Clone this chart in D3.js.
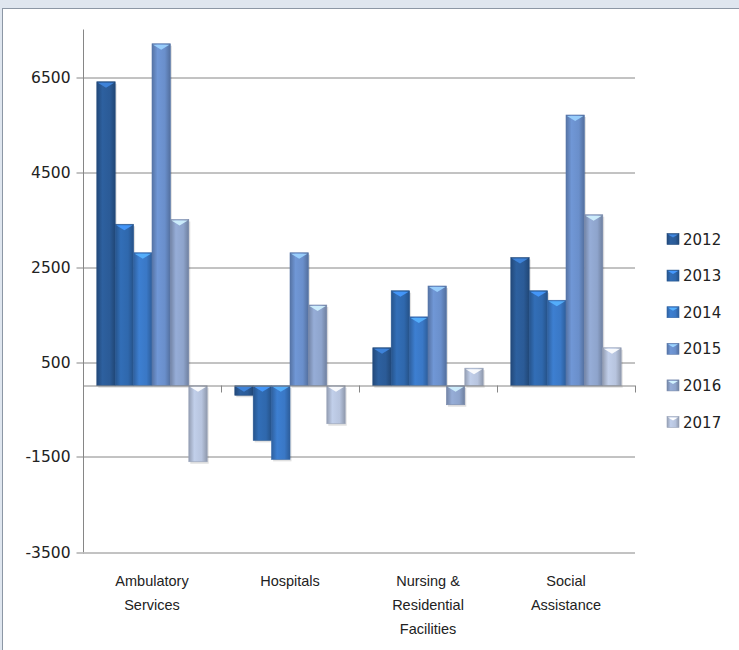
<!DOCTYPE html>
<html>
<head>
<meta charset="utf-8">
<script src="https://cdn.jsdelivr.net/npm/d3@7"></script>
<style>
  html, body { margin: 0; padding: 0; background: #dfe6ef; }
  svg { display: block; font-family: "Liberation Sans", Arial, sans-serif; }
</style>
</head>
<body>
<svg width="739" height="650"></svg>
<script>
// chart values
let categories = [
  ["Ambulatory", "Services"],
  ["Hospitals"],
  ["Nursing &", "Residential", "Facilities"],
  ["Social", "Assistance"]
];
let years = ["2012", "2013", "2014", "2015", "2016", "2017"];
let colors = ["#2b5b97", "#2f68ad", "#3a78c6", "#6a8fcb", "#8ea4cc", "#b7c4de"];
let ambulatory = [6400, 3400, 2800, 7200, 3500, -1600];
let hospitals = [-200, -1150, -1550, 2800, 1700, -800];
let nursing = [800, 2000, 1450, 2100, -400, 370];
let social = [2700, 2000, 1800, 5700, 3600, 800];
let yTicks = [-3500, -1500, 500, 2500, 4500, 6500];

let values = [ambulatory, hospitals, nursing, social];

var margin = { top: 29.5, left: 83, right: 104, bottom: 98 };
var width = 739 - margin.left - margin.right;
var height = 650 - margin.top - margin.bottom;

var svg = d3.select("svg");

// white panel
svg
  .append("rect")
  .attr("x", 2.5)
  .attr("y", 8.5)
  .attr("width", 760)
  .attr("height", 660)
  .attr("fill", "#fff")
  .attr("stroke", "#8c97a5");

var defs = svg.append("defs");
colors.forEach(function(c, i) {
  var g = defs
    .append("linearGradient")
    .attr("id", "grad" + i)
    .attr("x1", "0%")
    .attr("x2", "100%");
  g.append("stop").attr("offset", "0%").attr("stop-color", d3.color(c).darker(0.6));
  g.append("stop").attr("offset", "30%").attr("stop-color", d3.color(c).brighter(0.15));
  g.append("stop").attr("offset", "70%").attr("stop-color", c);
  g.append("stop").attr("offset", "100%").attr("stop-color", d3.color(c).darker(0.7));
});

var chart = svg
  .append("g")
  .attr("transform", "translate(" + margin.left + "," + margin.top + ")");

var x0 = d3
  .scaleBand()
  .domain(d3.range(categories.length))
  .range([0, width]);
// excel style 150% gap width
var x1 = d3
  .scaleBand()
  .domain(d3.range(years.length))
  .range([0, x0.bandwidth()])
  .paddingOuter(0.75)
  .paddingInner(0);
var y = d3
  .scaleLinear()
  .domain([-3500, 7500])
  .range([height, 0]);

// gridlines
chart
  .selectAll(".grid")
  .data(yTicks.slice(1))
  .enter()
  .append("line")
  .attr("class", "grid")
  .attr("x1", 0)
  .attr("x2", width)
  .attr("y1", d => Math.round(y(d)) + 0.5)
  .attr("y2", d => Math.round(y(d)) + 0.5)
  .attr("stroke", "#868686");

// y axis
var yAxis = d3
  .axisLeft(y)
  .tickValues(yTicks)
  .tickSize(7)
  .tickPadding(6)
  .tickFormat(d => String(d));
var ya = chart
  .append("g")
  .attr("transform", "translate(0.5,0)")
  .call(yAxis);
ya.select(".domain").attr("stroke", "#868686").attr("d", "M0," + height + "V0");
ya.selectAll(".tick line").attr("stroke", "#868686");
ya.selectAll(".tick")
  .attr("transform", d => "translate(0," + (Math.round(y(d)) + 0.5) + ")");
ya.selectAll(".tick text")
  .attr("fill", "#222")
  .attr("font-size", "15.5px")
  .attr("font-family", "DejaVu Sans, sans-serif");

// bottom line at -3500
chart
  .append("line")
  .attr("x1", 0)
  .attr("x2", width)
  .attr("y1", Math.round(y(-3500)) + 0.5)
  .attr("y2", Math.round(y(-3500)) + 0.5)
  .attr("stroke", "#868686");

// bars
var groups = chart
  .selectAll(".cat")
  .data(values)
  .enter()
  .append("g")
  .attr("class", "cat")
  .attr("transform", (d, i) => "translate(" + x0(i) + ",0)");

var bars = groups
  .selectAll(".bar")
  .data(d => d)
  .enter()
  .append("g")
  .attr("class", "bar");

bars
  .append("rect")
  .attr("x", (d, i) => x1(i) + 1.5)
  .attr("y", d => Math.min(y(d), y(0)) + 2)
  .attr("width", x1.bandwidth())
  .attr("height", d => Math.abs(y(d) - y(0)))
  .attr("fill", "#000")
  .attr("opacity", 0.12);

bars
  .append("rect")
  .attr("x", (d, i) => x1(i))
  .attr("y", d => Math.min(y(d), y(0)))
  .attr("width", x1.bandwidth())
  .attr("height", d => Math.abs(y(d) - y(0)))
  .attr("fill", (d, i) => "url(#grad" + i + ")")
  .attr("stroke", (d, i) => d3.color(colors[i]).darker(0.5))
  .attr("stroke-width", 0.6);

// little bevel triangle on top of each bar
bars
  .append("path")
  .attr("d", function(d, i) {
    var bx = x1(i), bw = x1.bandwidth();
    var ty = Math.min(y(d), y(0));
    return "M" + (bx + 1) + "," + (ty + 1) + "L" + (bx + bw - 1) + "," + (ty + 1) +
      "L" + (bx + bw / 2) + "," + (ty + 6) + "Z";
  })
  .attr("fill", (d, i) => d3.color(colors[i]).brighter(1.1))
  .attr("opacity", 0.9);

// category axis at zero
chart
  .append("line")
  .attr("x1", 0)
  .attr("x2", width)
  .attr("y1", Math.round(y(0)) + 0.5)
  .attr("y2", Math.round(y(0)) + 0.5)
  .attr("stroke", "#868686");
chart
  .selectAll(".ctick")
  .data(d3.range(categories.length + 1))
  .enter()
  .append("line")
  .attr("x1", d => Math.round(d * x0.bandwidth()) + 0.5)
  .attr("x2", d => Math.round(d * x0.bandwidth()) + 0.5)
  .attr("y1", Math.round(y(0)))
  .attr("y2", Math.round(y(0)) + 7)
  .attr("stroke", "#868686");

// category labels
var labels = chart
  .selectAll(".clabel")
  .data(categories)
  .enter()
  .append("text")
  .attr("class", "clabel")
  .attr("text-anchor", "middle")
  .attr("font-size", "14.5px")
  .attr("fill", "#222")
  .attr("transform", (d, i) => "translate(" + (x0(i) + x0.bandwidth() / 2) + "," + (height + 34) + ")");
labels
  .selectAll("tspan")
  .data(d => d)
  .enter()
  .append("tspan")
  .attr("x", 0)
  .attr("y", (d, i) => i * 24)
  .text(d => d);

// legend
var legend = svg
  .selectAll(".legend")
  .data(years)
  .enter()
  .append("g")
  .attr("class", "legend")
  .attr("transform", (d, i) => "translate(667," + (233.5 + i * 36.6) + ")");
legend
  .append("rect")
  .attr("width", 12)
  .attr("height", 11)
  .attr("fill", (d, i) => "url(#grad" + i + ")")
  .attr("stroke", (d, i) => d3.color(colors[i]).darker(0.5))
  .attr("stroke-width", 0.6);
legend
  .append("path")
  .attr("d", "M1,1L11,1L6,4Z")
  .attr("fill", (d, i) => d3.color(colors[i]).brighter(1.1));
legend
  .append("text")
  .attr("x", 16)
  .attr("y", 11)
  .attr("font-size", "15px")
  .attr("font-family", "DejaVu Sans, sans-serif")
  .attr("fill", "#222")
  .text(d => d);
</script>
</body>
</html>
